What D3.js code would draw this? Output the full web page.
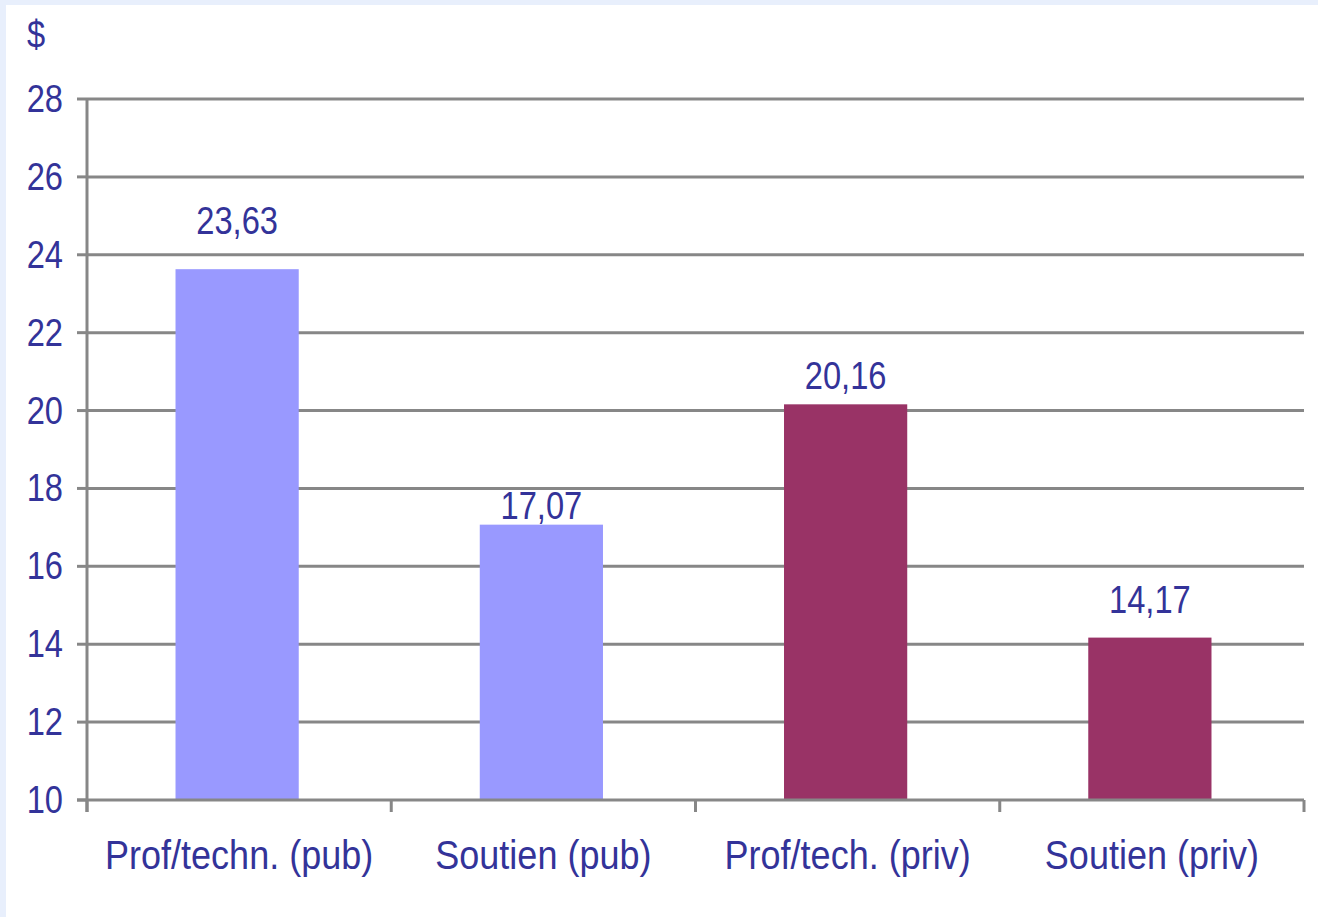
<!DOCTYPE html>
<html>
<head>
<meta charset="utf-8">
<script src="https://cdn.jsdelivr.net/npm/d3@7"></script>
<style>
  html, body { margin: 0; padding: 0; background: #e8effc; }
  svg { display: block; }
  text { font-family: "Liberation Sans", Arial, sans-serif; fill: #333399; }
</style>
</head>
<body>
<div id="canvas"></div>
<script>
// ////////// DATA /////////////
var categories = ["Prof/techn. (pub)", "Soutien (pub)", "Prof/tech. (priv)", "Soutien (priv)"];
var values = [23.63, 17.07, 20.16, 14.17];
var valueLabels = ["23,63", "17,07", "20,16", "14,17"];
var sectors = ["pub", "pub", "priv", "priv"];
var yTicks = [10, 12, 14, 16, 18, 20, 22, 24, 26, 28];
var unitLabel = "$";

///////// GLOBAL VARS //////////
var W = 1318, H = 917;
var plot = { left: 87, right: 1304, top: 99, bottom: 800 };
var labelGap = [35, 6, 15, 25]; // distance between value label baseline and bar top, as in the original

var svg = d3.select("#canvas")
  .append("svg")
  .attr("width", W)
  .attr("height", H);

// white panel inside the light blue frame
svg.append("rect")
  .attr("x", 6).attr("y", 5)
  .attr("width", W - 6).attr("height", H - 5)
  .attr("fill", "#ffffff");

var x = d3.scaleBand()
  .domain(categories)
  .range([plot.left, plot.right])
  .padding(0);

var y = d3.scaleLinear()
  .domain([10, 28])
  .range([plot.bottom, plot.top]);

var color = d3.scaleOrdinal()
  .domain(["pub", "priv"])
  .range(["#9999ff", "#993366"]);

var barW = x.bandwidth() * 0.405;

// horizontal grid lines
svg.append("g")
  .selectAll("line")
  .data(yTicks.filter(d => d > 10))
  .join("line")
  .attr("x1", plot.left)
  .attr("x2", plot.right)
  .attr("y1", d => y(d))
  .attr("y2", d => y(d))
  .attr("stroke", "#878787")
  .attr("stroke-width", 3);

// bars
svg.append("g")
  .selectAll("rect")
  .data(values)
  .join("rect")
  .attr("x", (d, i) => x(categories[i]) + x.bandwidth() / 2 - barW / 2 - 2)
  .attr("y", d => y(d))
  .attr("width", barW)
  .attr("height", d => y(10) - y(d))
  .attr("fill", (d, i) => color(sectors[i]));

// axes lines
var axisG = svg.append("g").attr("stroke", "#878787").attr("stroke-width", 3);
axisG.append("line")
  .attr("x1", plot.left).attr("x2", plot.left)
  .attr("y1", plot.top).attr("y2", plot.bottom + 12);
axisG.append("line")
  .attr("x1", plot.left - 10).attr("x2", plot.right)
  .attr("y1", plot.bottom).attr("y2", plot.bottom);

// y ticks
axisG.selectAll("line.ytick")
  .data(yTicks)
  .join("line")
  .attr("class", "ytick")
  .attr("x1", plot.left - 10).attr("x2", plot.left)
  .attr("y1", d => y(d)).attr("y2", d => y(d));

// x ticks (category boundaries)
var bounds = categories.map(c => x(c)).concat([x(categories[categories.length - 1]) + x.bandwidth()]);
axisG.selectAll("line.xtick")
  .data(bounds)
  .join("line")
  .attr("class", "xtick")
  .attr("x1", d => d).attr("x2", d => d)
  .attr("y1", plot.bottom).attr("y2", plot.bottom + 12);

// helper for narrow text (the original font is condensed)
function narrowText(parent, tx, ty, str, size, anchor, sx) {
  parent.append("g")
    .attr("transform", `translate(${tx},${ty}) scale(${sx},1)`)
    .append("text")
    .attr("text-anchor", anchor)
    .attr("font-size", size)
    .text(str);
}

// y tick labels
yTicks.forEach(t => narrowText(svg, 63, y(t) + 13, t, 38, "end", 0.86));

// unit label
narrowText(svg, 27, 48, unitLabel, 38, "start", 0.86);

// value labels
values.forEach((v, i) => {
  narrowText(svg, x(categories[i]) + x.bandwidth() / 2 - 2, y(v) - labelGap[i], valueLabels[i], 38, "middle", 0.86);
});

// category labels
categories.forEach(c => {
  narrowText(svg, x(c) + x.bandwidth() / 2, 869, c, 40, "middle", 0.9);
});
</script>
</body>
</html>
